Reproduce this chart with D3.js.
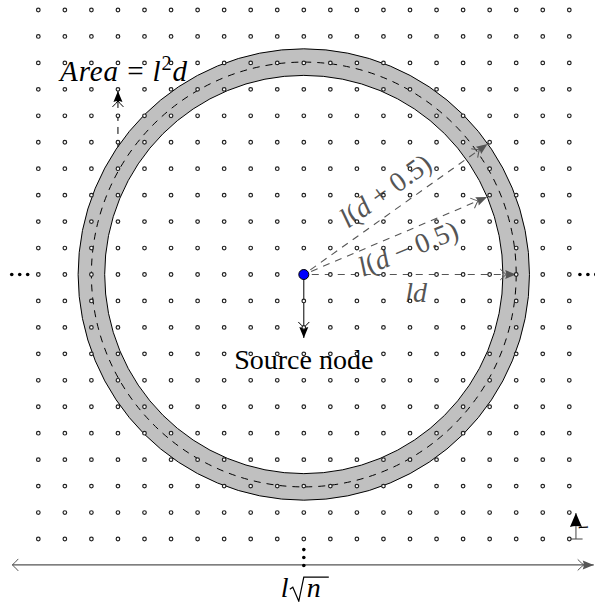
<!DOCTYPE html>
<html>
<head>
<meta charset="utf-8">
<script src="https://cdn.jsdelivr.net/npm/d3@7"></script>
<style>
  html, body { margin: 0; padding: 0; background: #fff; }
  svg { display: block; }
</style>
</head>
<body>
<svg id="chart" width="595" height="602"></svg>
<script>
// ---- data (grid units, origin at the source node, y up) ----
const gridCols = [-10,-9,-8,-7,-6,-5,-4,-3,-2,-1,0,1,2,3,4,5,6,7,8,9,10];
const gridRows = [-10,-9,-8,-7,-6,-5,-4,-3,-2,-1,0,1,2,3,4,5,6,7,8,9,10];
const ringD = 8;            // d (in units of l)
const ringHalf = 0.5;       // ring half width
const radialAngles = [0, 23, 35.5];        // degrees
const radialLengths = [8, 7.5, 8.5];       // ld, l(d-0.5), l(d+0.5)
const ellipsisOffsets = [10.4, 10.7, 11.0];
const labelTexts = ["Source node", "ld", "l(d − 0.5)", "l(d + 0.5)", "Area = l²d", "l√n"];

const FONT = "'Liberation Serif', 'DejaVu Serif', serif";

// ---- scales ----
const svg = d3.select("#chart");
const x = d3.scaleLinear().domain([-10, 10]).range([38.3, 569.3]);
const y = d3.scaleLinear().domain([-10, 10]).range([539, 10]);
const unit = x(1) - x(0);
const cx = x(0), cy = y(0);

const gray = "#555";
const defs = svg.append("defs");
function tipMarker(id, color, chevron, big) {
  const m = defs.append("marker").attr("id", id)
    .attr("markerUnits", "userSpaceOnUse")
    .attr("viewBox", "-18 -8 19 16").attr("refX", 0).attr("refY", 0)
    .attr("markerWidth", 19).attr("markerHeight", 16)
    .attr("orient", "auto-start-reverse");
  const L = big ? 14 : 11, W = big ? 6 : 4.5;
  m.append("path").attr("d", `M0,0 L${-L},${-W} Q${-L + 2},0 ${-L},${W} Z`)
    .attr("fill", color).attr("stroke", "none");
  if (chevron) {
    m.append("path").attr("d", `M${-L - 5},-5.5 Q${-L - 1},-1.5 ${-L + 1},0 Q${-L - 1},1.5 ${-L - 5},5.5`)
      .attr("fill", "none").attr("stroke", color).attr("stroke-width", 1);
  }
}
tipMarker("tipBlack", "#000", true, false);
tipMarker("tipGray", gray, true, false);
tipMarker("tipBig", "#000", false, true);
const chev = defs.append("marker").attr("id", "chevGray")
  .attr("markerUnits", "userSpaceOnUse")
  .attr("viewBox", "-8 -8 9 16").attr("refX", 0).attr("refY", 0)
  .attr("markerWidth", 9).attr("markerHeight", 16)
  .attr("orient", "auto-start-reverse");
chev.append("path").attr("d", "M-6,-6 Q-2,-1.5 0,0 Q-2,1.5 -6,6")
  .attr("fill", "none").attr("stroke", gray).attr("stroke-width", 1);

// ---- ring ----
const arc = d3.arc()
  .innerRadius((ringD - ringHalf) * unit)
  .outerRadius((ringD + ringHalf) * unit)
  .startAngle(0).endAngle(2 * Math.PI);
svg.append("path").attr("transform", `translate(${cx},${cy})`)
  .attr("d", arc()).attr("fill", "#c0c0c0").attr("stroke", "#000").attr("stroke-width", 1);
svg.append("circle").attr("cx", cx).attr("cy", cy).attr("r", ringD * unit)
  .attr("fill", "none").attr("stroke", "#000").attr("stroke-width", 1)
  .attr("stroke-dasharray", "7,6");

// ---- radial dashed arrows ----
radialAngles.forEach((a, i) => {
  const t = a * Math.PI / 180;
  const r0 = 0.3, r1 = radialLengths[i];
  svg.append("line")
    .attr("x1", x(r0 * Math.cos(t))).attr("y1", y(r0 * Math.sin(t)))
    .attr("x2", x(r1 * Math.cos(t))).attr("y2", y(r1 * Math.sin(t)))
    .attr("stroke", gray).attr("stroke-width", 1.1).attr("stroke-dasharray", "7,6")
    .attr("marker-end", "url(#tipGray)");
});

// ---- area arrow (dashed, black) ----
const ax = -7;
svg.append("line")
  .attr("x1", x(ax)).attr("y1", y(Math.sqrt(Math.pow(ringD + ringHalf, 2) - ax * ax)))
  .attr("x2", x(ax)).attr("y2", y(6.94))
  .attr("stroke", "#000").attr("stroke-width", 1).attr("stroke-dasharray", "7,6")
  .attr("marker-end", "url(#tipBlack)");

// ---- source down arrow ----
svg.append("line").attr("x1", cx).attr("y1", cy).attr("x2", cx).attr("y2", y(-2.4))
  .attr("stroke", "#000").attr("stroke-width", 1).attr("marker-end", "url(#tipBlack)");

// ---- bottom double arrow ----
svg.append("line").attr("x1", x(-10.98)).attr("y1", y(-10.98)).attr("x2", x(10.92)).attr("y2", y(-10.98))
  .attr("stroke", gray).attr("stroke-width", 1.1)
  .attr("marker-start", "url(#chevGray)").attr("marker-end", "url(#tipGray)");

// ---- bottom-right l marker ----
svg.append("line").attr("x1", x(10)).attr("y1", y(-10)).attr("x2", x(10.5)).attr("y2", y(-10))
  .attr("stroke", gray).attr("stroke-width", 1.1);
svg.append("line").attr("x1", x(10.25)).attr("y1", y(-10)).attr("x2", x(10.25)).attr("y2", y(-9.02))
  .attr("stroke", gray).attr("stroke-width", 1.1).attr("marker-end", "url(#tipBig)");
svg.append("text").attr("transform", `translate(${x(10.5)},${y(-9.55)}) rotate(78)`)
  .attr("font-family", FONT)
  .attr("font-size", 13).attr("font-style", "italic").attr("text-anchor", "middle")
  .attr("dy", "0.3em").text("l");

// ---- labels ----
svg.append("text").attr("x", x(0)).attr("y", y(-3.57)).attr("text-anchor", "middle")
  .attr("font-family", FONT).attr("font-size", 28).text(labelTexts[0]);

function mathText(sel, parts) {
  sel.attr("font-family", FONT);
  parts.forEach(p => {
    const ts = sel.append("tspan").text(p[0]);
    if (p[1] === "i") ts.attr("font-style", "italic");
    if (p[1] === "sup") ts.attr("font-size", "0.7em").attr("baseline-shift", "super");
  });
  return sel;
}
// ld
mathText(svg.append("text").attr("x", x(4.23)).attr("y", y(-1.04)).attr("text-anchor", "middle")
  .attr("font-size", 28).attr("fill", gray), [["l", "i"], ["d", "i"]]);
// l(d - 0.5)
mathText(svg.append("text").attr("transform", `translate(${x(3.92)},${y(1.0)}) rotate(-22)`)
  .attr("text-anchor", "middle").attr("dominant-baseline", "central")
  .attr("font-size", 28).attr("fill", gray),
  [["l", "i"], ["("], ["d", "i"], [" − 0.5)"]]);
// l(d + 0.5)
mathText(svg.append("text").attr("transform", `translate(${x(3.06)},${y(3.19)}) rotate(-35.5)`)
  .attr("text-anchor", "middle").attr("dominant-baseline", "central")
  .attr("font-size", 28).attr("fill", gray),
  [["l", "i"], ["("], ["d", "i"], [" + 0.5)"]]);
// Area = l^2 d
mathText(svg.append("text").attr("x", x(-9.18)).attr("y", y(7.32))
  .attr("font-size", 29).attr("fill", "#000")
  .attr("textLength", 127).attr("lengthAdjust", "spacing"),
  [["Area", "i"], [" = "], ["l", "i"], ["2", "sup"], ["d", "i"]]);

// l sqrt(n)
const by = y(-12.2);
svg.append("text").attr("x", cx - 23).attr("y", by).attr("font-size", 28)
  .attr("font-family", FONT).attr("font-style", "italic").text("l");
svg.append("path")
  .attr("d", `M${cx - 14},${by - 8} L${cx - 11},${by - 10} L${cx - 5},${by + 4} L${cx},${by - 20} L${cx + 25},${by - 20}`)
  .attr("fill", "none").attr("stroke", "#000").attr("stroke-width", 1.2).attr("stroke-linejoin", "miter");
svg.append("text").attr("x", cx + 3).attr("y", by).attr("font-size", 28)
  .attr("font-family", FONT).attr("font-style", "italic").text("n");

// ---- ellipsis dots ----
const ell = [];
ellipsisOffsets.forEach(o => { ell.push([-o, 0]); ell.push([o, 0]); ell.push([0, -o]); });
svg.append("g").selectAll("circle").data(ell).join("circle")
  .attr("cx", d => x(d[0])).attr("cy", d => y(d[1])).attr("r", 1.8).attr("fill", "#000");

// ---- grid dots ----
const pts = [];
gridRows.forEach(r => gridCols.forEach(c => pts.push([c, r])));
svg.append("g").selectAll("circle").data(pts).join("circle")
  .attr("cx", d => x(d[0])).attr("cy", d => y(d[1])).attr("r", 1.8)
  .attr("fill", "#fff").attr("stroke", "#222").attr("stroke-width", 1.2);

// ---- source node ----
svg.append("circle").attr("cx", cx).attr("cy", cy).attr("r", 5)
  .attr("fill", "#0000ff").attr("stroke", "#000").attr("stroke-width", 1);
</script>
</body>
</html>
